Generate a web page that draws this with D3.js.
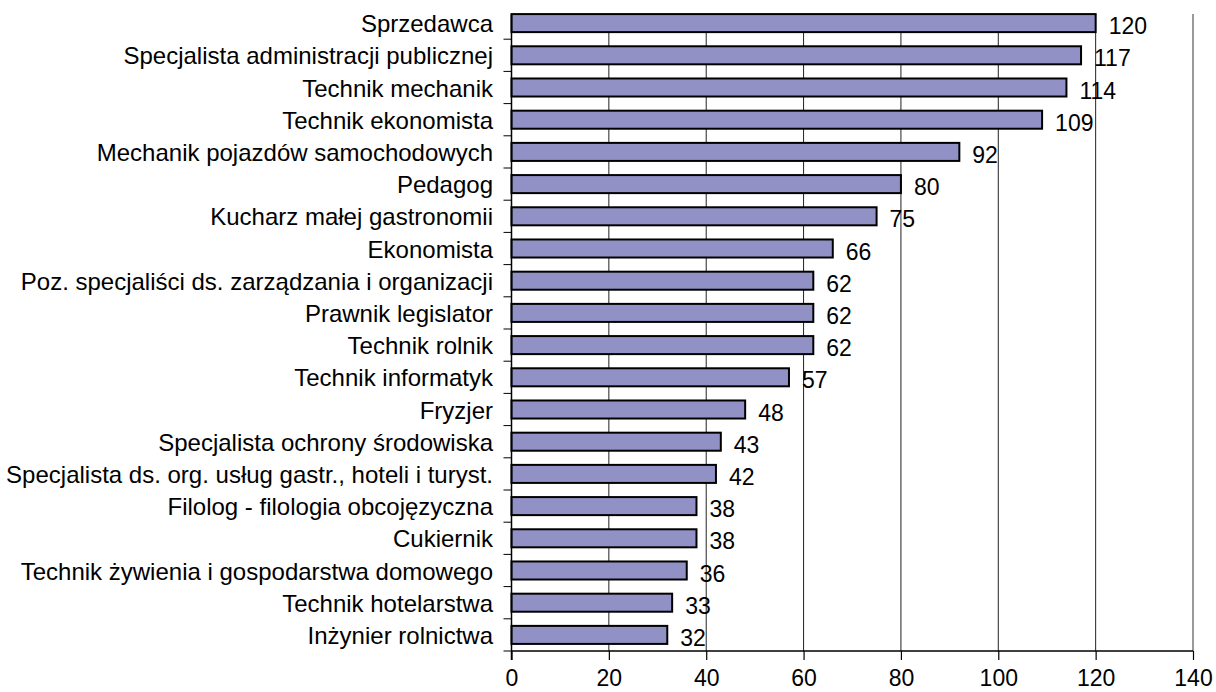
<!DOCTYPE html>
<html>
<head>
<meta charset="utf-8">
<script src="https://cdn.jsdelivr.net/npm/d3@7"></script>
<style>
  body { margin: 0; background: #fff; }
  svg { display: block; }
  text { font-family: "Liberation Sans", Arial, sans-serif; fill: #000; }
</style>
</head>
<body>
<div id="chart"></div>
<script>
// occupations and counts, top to bottom as in the picture
var categories = [
  "Sprzedawca",
  "Specjalista administracji publicznej",
  "Technik mechanik",
  "Technik ekonomista",
  "Mechanik pojazdów samochodowych",
  "Pedagog",
  "Kucharz małej gastronomii",
  "Ekonomista",
  "Poz. specjaliści ds. zarządzania i organizacji",
  "Prawnik legislator",
  "Technik rolnik",
  "Technik informatyk",
  "Fryzjer",
  "Specjalista ochrony środowiska",
  "Specjalista ds. org. usług gastr., hoteli i turyst.",
  "Filolog - filologia obcojęzyczna",
  "Cukiernik",
  "Technik żywienia i gospodarstwa domowego",
  "Technik hotelarstwa",
  "Inżynier rolnictwa"
];
var values = [120, 117, 114, 109, 92, 80, 75, 66, 62, 62, 62, 57, 48, 43, 42, 38, 38, 36, 33, 32];
var xTicks = [0, 20, 40, 60, 80, 100, 120, 140];

var width = 1216, height = 692;
var plot = {left: 511.5, right: 1193, top: 7, bottom: 651, gridTop: 14};

var svg = d3.select("#chart").append("svg")
    .attr("width", width)
    .attr("height", height);

var x = d3.scaleLinear()
    .domain([0, 140])
    .range([plot.left, plot.right]);

var y = d3.scaleBand()
    .domain(categories)
    .range([plot.top, plot.bottom])
    .paddingInner(0.44)
    .paddingOuter(0.22);

var step = y.step();

// vertical gridlines (last one is the grey plot border)
svg.append("g")
    .selectAll("line")
    .data(xTicks.slice(1))
    .enter().append("line")
    .attr("x1", function (d) { return x(d); })
    .attr("x2", function (d) { return x(d); })
    .attr("y1", plot.gridTop)
    .attr("y2", plot.bottom)
    .attr("stroke", function (d) { return d === 140 ? "#9a9a9a" : "#222"; })
    .attr("stroke-width", function (d) { return d === 140 ? 2 : 1; });

// bars
svg.append("g")
    .selectAll("rect")
    .data(values)
    .enter().append("rect")
    .attr("x", x(0))
    .attr("y", function (d, i) { return y(categories[i]); })
    .attr("width", function (d) { return x(d) - x(0); })
    .attr("height", y.bandwidth())
    .attr("fill", "#9191c6")
    .attr("stroke", "#000")
    .attr("stroke-width", 2);

// y axis with ticks between categories
var yAxis = svg.append("g");
yAxis.append("line")
    .attr("x1", plot.left).attr("x2", plot.left)
    .attr("y1", plot.gridTop).attr("y2", plot.bottom + 9)
    .attr("stroke", "#000").attr("stroke-width", 1.5);
yAxis.selectAll(".ytick")
    .data(d3.range(1, categories.length + 1))
    .enter().append("line")
    .attr("class", "ytick")
    .attr("x1", plot.left - 8).attr("x2", plot.left)
    .attr("y1", function (i) { return plot.top + i * step; })
    .attr("y2", function (i) { return plot.top + i * step; })
    .attr("stroke", "#000").attr("stroke-width", 1);

yAxis.selectAll(".ylabel")
    .data(categories)
    .enter().append("text")
    .attr("class", "ylabel")
    .attr("x", 493)
    .attr("y", function (d) { return y(d) + y.bandwidth() / 2 + 9; })
    .attr("text-anchor", "end")
    .style("font-size", "24px")
    .text(function (d) { return d; });

// x axis
var xAxis = svg.append("g")
    .attr("transform", "translate(0," + plot.bottom + ")")
    .call(d3.axisBottom(x).tickValues(xTicks).tickSize(9).tickPadding(0).tickFormat(d3.format("d")));
xAxis.select(".domain").remove();
xAxis.selectAll(".tick line").attr("stroke", "#000").attr("stroke-width", 1.2);
xAxis.selectAll(".tick text")
    .attr("dy", null)
    .attr("y", 35)
    .style("font-size", "23px")
    .style("font-family", "'Liberation Sans', Arial, sans-serif")
    .attr("fill", "#000");
svg.append("line")
    .attr("x1", plot.left).attr("x2", plot.right)
    .attr("y1", plot.bottom).attr("y2", plot.bottom)
    .attr("stroke", "#000").attr("stroke-width", 1.5);

// value labels
svg.append("g")
    .selectAll("text")
    .data(values)
    .enter().append("text")
    .attr("x", function (d) { return x(d) + 13; })
    .attr("y", function (d, i) { return y(categories[i]) + y.bandwidth() / 2 + 11; })
    .style("font-size", "23px")
    .text(function (d) { return d; });
</script>
</body>
</html>
